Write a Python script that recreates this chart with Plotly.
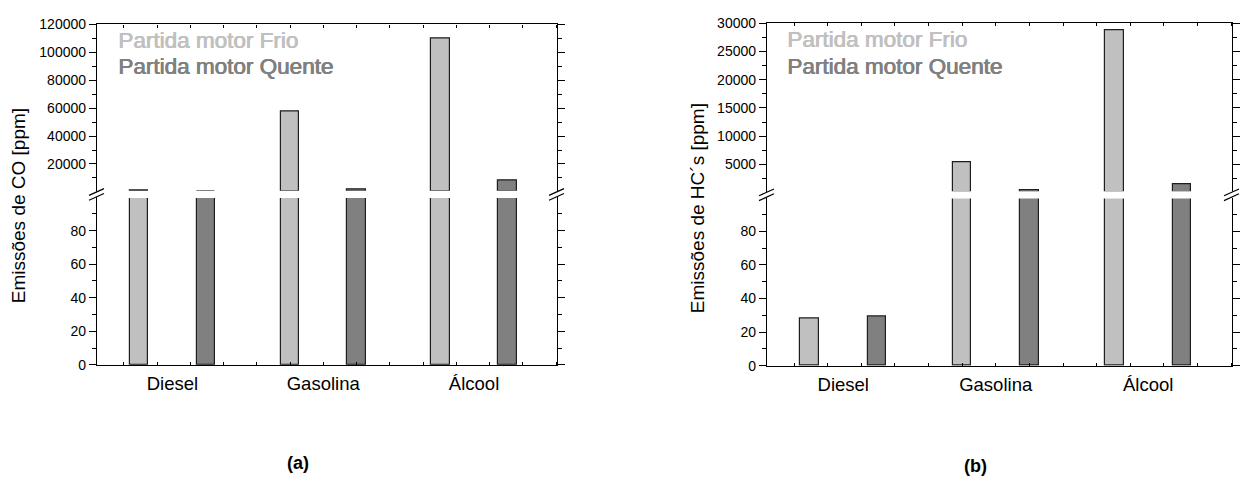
import numpy as np
import plotly.graph_objects as go

# ---------------- data ----------------
categories = ["Diesel", "Gasolina", "Álcool"]
series_names = ["Partida motor Frio", "Partida motor Quente"]
co_frio = [900, 58000, 110000]
co_quente = [500, 1600, 8100]
hc_frio = [28, 5400, 28800]
hc_quente = [29, 400, 1500]
ytitle_a = "Emissões de CO [ppm]"
ytitle_b = "Emissões de HC´s [ppm]"
captions = ["(a)", "(b)"]

# ---------------- style ----------------
W, H = 1242, 486
FONT = "Liberation Sans, Arial, Helvetica, sans-serif"
C_FRIO = "#c0c0c0"
C_QUENTE = "#808080"
EDGE = "#1e1e1e"
BAR_W = 0.1225
OFF = 0.222
xpos = list(range(1, len(categories) + 1))
XRANGE = [0.5, 3.55]


def fx(px):
    return px / W


def fy(py):
    return 1 - py / H


panels = [
    dict(left=97, right=557, top=17, ub=190.0, lt=195.5, bottom=369,
         frio=co_frio, quente=co_quente, urange=[100, 120000],
         umaj=list(range(20000, 120001, 20000)), umin=list(range(10000, 120000, 20000)),
         title=ytitle_a, tx=18, ty=205, leg_x=116, leg_y=(34, 61), cap=(298, 471)),
    dict(left=767, right=1232, top=15.7, ub=190.3, lt=196, bottom=370,
         frio=hc_frio, quente=hc_quente, urange=[100, 30000],
         umaj=list(range(5000, 30001, 5000)), umin=list(range(2500, 30000, 5000)),
         title=ytitle_b, tx=697, ty=207, leg_x=785, leg_y=(33, 60), cap=(975, 474)),
]

fig = go.Figure()
layout = dict(
    width=W, height=H, margin=dict(l=0, r=0, t=0, b=0),
    paper_bgcolor="white", plot_bgcolor="white", showlegend=False,
    font=dict(family=FONT, color="black", size=14),
    bargap=0,
)
annotations = []
shapes = []

xminor = list(np.arange(0.678, 3.55, 0.2205))

for i, p in enumerate(panels):
    lo = 2 * i + 1
    up = 2 * i + 2
    xl = "x" if lo == 1 else f"x{lo}"
    yl = "y" if lo == 1 else f"y{lo}"
    xu = f"x{up}"
    yu = f"y{up}"
    for name, vals, col in [(series_names[0], p["frio"], C_FRIO),
                            (series_names[1], p["quente"], C_QUENTE)]:
        off = -OFF - BAR_W / 2 if col == C_FRIO else OFF - BAR_W / 2
        # upper (broken) segment only shows values that reach it
        vals_up = [v if v > p["urange"][0] else None for v in vals]
        for xa, ya, vv in [(xl, yl, vals), (xu, yu, vals_up)]:
            fig.add_trace(go.Bar(
                x=xpos, y=vv, name=name, xaxis=xa, yaxis=ya,
                width=BAR_W, offset=off,
                marker=dict(color=col, line=dict(color=EDGE, width=1.2)),
                hoverinfo="skip",
            ))
    xdom = [fx(p["left"]), fx(p["right"])]
    kx = "xaxis" if lo == 1 else f"xaxis{lo}"
    ky = "yaxis" if lo == 1 else f"yaxis{lo}"
    layout[kx] = dict(
        domain=xdom, anchor=yl, range=XRANGE, showline=True, linecolor="black",
        linewidth=1.3, mirror=False, tickmode="array", tickvals=xpos, ticktext=categories,
        ticks="", ticklabelstandoff=2, tickfont=dict(size=18.5, family=FONT),
        showgrid=False, zeroline=False,
        minor=dict(tickmode="array", tickvals=xminor, ticks="inside", ticklen=3,
                   tickcolor="black", tickwidth=1, showgrid=False),
        fixedrange=True,
    )
    layout[f"xaxis{up}"] = dict(
        domain=xdom, anchor=yu, range=XRANGE, side="top", showline=True, linecolor="black",
        linewidth=1.3, mirror=False, showticklabels=False, tickmode="array", tickvals=[],
        ticks="", showgrid=False, zeroline=False,
        minor=dict(tickmode="array", tickvals=xminor, ticks="inside", ticklen=3,
                   tickcolor="black", tickwidth=1, showgrid=False),
        fixedrange=True,
    )
    layout[ky] = dict(
        domain=[fy(p["bottom"]), fy(p["lt"])], anchor=xl, range=[0, 100],
        showline=True, linecolor="black", linewidth=1.3, mirror="ticks",
        tickmode="array", tickvals=[0, 20, 40, 60, 80], ticks="outside", ticklen=7,
        tickwidth=1.2, tickcolor="black", showgrid=False, zeroline=False,
        tickfont=dict(size=14, family=FONT),
        minor=dict(tickmode="array", tickvals=[10, 30, 50, 70, 90], ticks="outside",
                   ticklen=4, tickwidth=1.2, tickcolor="black", showgrid=False),
        fixedrange=True,
    )
    layout[f"yaxis{up}"] = dict(
        domain=[fy(p["ub"]), fy(p["top"])], anchor=xu, range=p["urange"],
        showline=True, linecolor="black", linewidth=1.3, mirror="ticks",
        tickmode="array", tickvals=p["umaj"], tickformat="d", ticks="outside", ticklen=7,
        tickwidth=1.2, tickcolor="black", showgrid=False, zeroline=False,
        tickfont=dict(size=14, family=FONT),
        minor=dict(tickmode="array", tickvals=p["umin"], ticks="outside",
                   ticklen=4, tickwidth=1.2, tickcolor="black", showgrid=False),
        fixedrange=True,
    )
    # axis title
    annotations.append(dict(
        text=p["title"], x=fx(p["tx"]), y=fy(p["ty"]), xref="paper", yref="paper",
        textangle=-90, showarrow=False, xanchor="center", yanchor="middle",
        font=dict(size=19, family=FONT, color="black"),
    ))
    # text legend
    for name, col, ly in [(series_names[0], C_FRIO, p["leg_y"][0]),
                          (series_names[1], C_QUENTE, p["leg_y"][1])]:
        annotations.append(dict(
            text=name, x=fx(p["leg_x"]), y=fy(ly), xref="paper", yref="paper",
            showarrow=False, xanchor="left", yanchor="middle",
            font=dict(size=22.5, family=FONT, color=col,
                      shadow=f"0.8px 0 0 {col}, 0.4px 0.3px 0 {col}"),
        ))
    # caption
    annotations.append(dict(
        text=f"<b>{captions[i]}</b>", x=fx(p["cap"][0]), y=fy(p["cap"][1]),
        xref="paper", yref="paper", showarrow=False, xanchor="center", yanchor="middle",
        font=dict(size=18, family=FONT, color="black"),
    ))
    # white gap hiding the clipped bar edges at the break
    shapes.append(dict(type="rect", xref="paper", yref="paper", layer="above",
                       x0=fx(p["left"] + 1), x1=fx(p["right"] - 1),
                       y0=fy(p["lt"] + 0.9), y1=fy(p["ub"] - 0.9),
                       fillcolor="white", line=dict(width=0)))
    # axis break marks
    cy = (p["ub"] + p["lt"]) / 2
    for cx in (p["left"], p["right"]):
        shapes.append(dict(type="path", xref="paper", yref="paper",
                           path=(f"M{fx(cx-8)},{fy(cy+5.5)} L{fx(cx+7)},{fy(cy-1.5)} "
                                 f"L{fx(cx+7)},{fy(cy-6.5)} L{fx(cx-8)},{fy(cy+0.5)} Z"),
                           fillcolor="white", line=dict(width=0)))
        for dy in (-2.5, 2.5):
            shapes.append(dict(type="line", xref="paper", yref="paper",
                               x0=fx(cx - 8), y0=fy(cy + dy + 3.5),
                               x1=fx(cx + 7), y1=fy(cy + dy - 3.5),
                               line=dict(color="black", width=1.2)))

layout["annotations"] = annotations
layout["shapes"] = shapes
fig.update_layout(**layout)
fig.write_html("out.html")
